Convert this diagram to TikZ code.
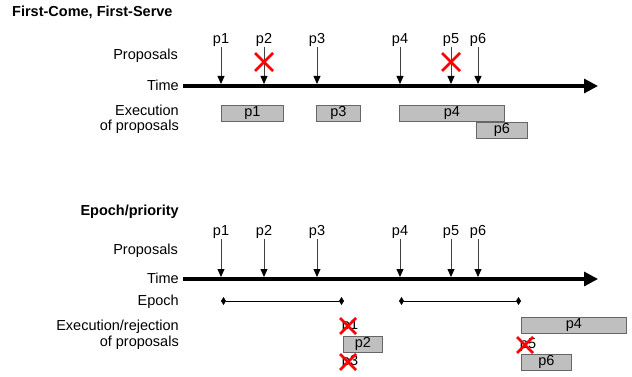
\documentclass[tikz,border=0pt]{standalone}
\usepackage{fontspec}
\setmainfont{Liberation Sans}
\usetikzlibrary{arrows.meta}
\begin{document}
\begin{tikzpicture}[x=1pt,y=-1pt,
  every node/.style={font=\fontsize{14.5}{15.5}\selectfont, inner sep=0pt},
  lbl/.style={anchor=east},
  ttl/.style={font=\fontsize{14.5}{15.5}\selectfont\bfseries},
  pl/.style={anchor=center},
  parrow/.style={draw=black!75, line width=0.8pt, -{Triangle[width=7pt,length=8pt,black]}},
  timeline/.style={line width=3.2pt, -{Triangle[width=14pt,length=14pt]}},
  epoch/.style={line width=0.8pt, {Diamond[width=8pt,length=5pt]}-{Diamond[width=8pt,length=5pt]}},
  pbox/.style={draw=black!60, fill=black!25, line width=0.7pt, anchor=north west, minimum height=16pt},
  redx/.style={draw=red, line width=2.6pt}
]
\useasboundingbox (0,0) rectangle (632,377);

% ---------- Top: First-Come, First-Serve ----------
\node[ttl, anchor=west] (title1) at (12,12) {First-Come, First-Serve};
\node[lbl] (prop1) at (178,56) {Proposals};
\node[lbl] (time1) at (179,85) {Time};
\node[lbl, align=right] (exec1) at (179,119.5) {Execution\\of proposals};

\coordinate (ts1) at (183,86);
\coordinate (te1) at (598,86);
\draw[timeline] (ts1) -- (te1);

\foreach \n/\x in {1/221,2/264,3/317,4/400,5/451,6/478}{
  \node[pl] (a\n) at (\x,40) {p\n};
  \coordinate (ta\n) at (\x,84);
  \draw[parrow] (a\n.south) -- (ta\n);
}

% red crosses on p2 and p5
\foreach \n/\x in {2/264,5/451}{
  \coordinate (xa\n) at (\x-9,53);
  \coordinate (xb\n) at (\x+9,71);
  \coordinate (xc\n) at (\x+9,53);
  \coordinate (xd\n) at (\x-9,71);
  \draw[redx] (xa\n) -- (xb\n);
  \draw[redx] (xc\n) -- (xd\n);
}

\node[pbox, minimum width=62pt] (b1) at (221,105) {p1};
\node[pbox, minimum width=44pt] (b3) at (316,105) {p3};
\node[pbox, minimum width=105pt] (b4) at (399,105) {p4};
\node[pbox, minimum width=51pt] (b6) at (476,122) {p6};

% ---------- Bottom: Epoch/priority ----------
\node[ttl, anchor=east] (title2) at (179,212) {Epoch/priority};
\node[lbl] (prop2) at (178,251) {Proposals};
\node[lbl] (time2) at (179,278) {Time};
\node[lbl] (epl) at (179,302) {Epoch};
\node[lbl, align=right] (exec2) at (179,334.5) {Execution/rejection\\of proposals};

\coordinate (ts2) at (183,279);
\coordinate (te2) at (598,279);
\draw[timeline] (ts2) -- (te2);

\foreach \n/\x in {1/221,2/264,3/317,4/400,5/451,6/478}{
  \node[pl] (c\n) at (\x,232) {p\n};
  \coordinate (tc\n) at (\x,277);
  \draw[parrow] (c\n.south) -- (tc\n);
}

\coordinate (e1s) at (221,301);
\coordinate (e1e) at (344,301);
\coordinate (e2s) at (399,301);
\coordinate (e2e) at (521,301);
\draw[epoch] (e1s) -- (e1e);
\draw[epoch] (e2s) -- (e2e);

% results of first epoch
\node[pl] (r1) at (350,326) {p1};
\node[pbox, minimum width=39pt] (r2) at (343,336) {p2};
\node[pl] (r3) at (350,362) {p3};
% results of second epoch
\node[pbox, minimum width=105pt] (r4) at (521,317) {p4};
\node[pl] (r5) at (528,345) {p5};
\node[pbox, minimum width=50pt] (r6) at (521,354) {p6};

\foreach \nm/\x/\y in {r1/348/326, r3/348/362, r5/525/345}{
  \coordinate (\nm a) at (\x-8,\y-8);
  \coordinate (\nm b) at (\x+8,\y+8);
  \coordinate (\nm c) at (\x+8,\y-8);
  \coordinate (\nm d) at (\x-8,\y+8);
  \draw[redx] (\nm a) -- (\nm b);
  \draw[redx] (\nm c) -- (\nm d);
}
\end{tikzpicture}
\end{document}
